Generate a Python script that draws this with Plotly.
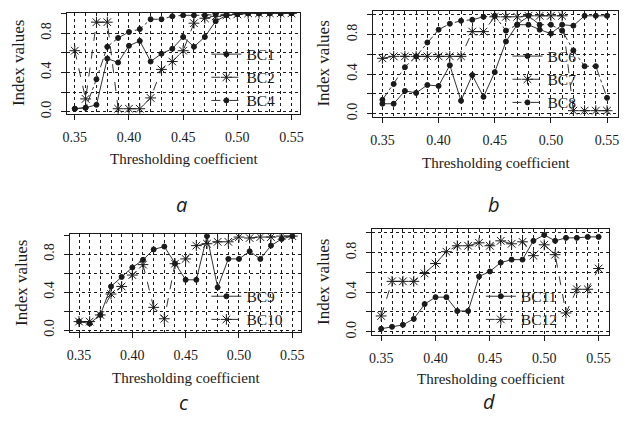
import plotly.graph_objects as go

# ---------------- data ----------------
thresholds = [0.35, 0.36, 0.37, 0.38, 0.39, 0.40, 0.41, 0.42, 0.43, 0.44, 0.45,
              0.46, 0.47, 0.48, 0.49, 0.50, 0.51, 0.52, 0.53, 0.54, 0.55]

bc1 = [0.03, 0.04, 0.07, 0.54, 0.50, 0.67, 0.72, 0.51, 0.59, 0.64, 0.76,
       0.66, 0.76, 0.92, 0.98, 0.99, 1.00, 1.00, 1.00, 1.00, 1.00]
bc2 = [0.62, 0.13, 0.91, 0.91, 0.03, 0.03, 0.03, 0.14, 0.43, 0.51, 0.62,
       0.90, 0.95, 0.97, 0.98, 0.99, 1.00, 1.00, 1.00, 1.00, 1.00]
bc4 = [0.03, 0.04, 0.33, 0.66, 0.75, 0.81, 0.84, 0.94, 0.94, 0.97, 0.98,
       0.98, 0.98, 0.99, 0.99, 1.00, 1.00, 1.00, 1.00, 1.00, 1.00]

bc6 = [0.10, 0.10, 0.23, 0.21, 0.29, 0.28, 0.49, 0.13, 0.39, 0.17, 0.42,
       0.73, 0.90, 0.90, 0.85, 0.81, 0.90, 0.89, 0.99, 0.99, 0.99]
bc7 = [0.56, 0.58, 0.58, 0.58, 0.58, 0.58, 0.58, 0.58, 0.83, 0.83, 0.98,
       0.98, 0.98, 0.99, 0.99, 0.99, 0.99, 0.03, 0.03, 0.03, 0.03]
bc8 = [0.14, 0.30, 0.47, 0.58, 0.72, 0.85, 0.91, 0.94, 0.95, 0.98, 0.99,
       0.84, 0.90, 0.99, 0.90, 0.90, 0.84, 0.64, 0.48, 0.48, 0.16]

bc9 = [0.09, 0.07, 0.16, 0.46, 0.56, 0.66, 0.74, 0.85, 0.88, 0.70, 0.53,
       0.53, 0.99, 0.45, 0.75, 0.75, 0.83, 0.75, 0.89, 0.96, 0.99]
bc10 = [0.09, 0.09, 0.16, 0.38, 0.46, 0.58, 0.69, 0.24, 0.12, 0.70, 0.75,
        0.89, 0.91, 0.93, 0.93, 0.98, 0.97, 0.98, 0.98, 0.99, 0.99]

bc11 = [0.03, 0.05, 0.07, 0.13, 0.28, 0.35, 0.35, 0.21, 0.21, 0.56, 0.61,
        0.70, 0.73, 0.73, 0.92, 0.98, 0.92, 0.95, 0.95, 0.96, 0.96]
bc12 = [0.16, 0.51, 0.51, 0.51, 0.59, 0.69, 0.81, 0.87, 0.87, 0.90, 0.87,
        0.92, 0.89, 0.91, 0.77, 0.88, 0.78, 0.19, 0.43, 0.43, 0.64]

x_tick_vals = [0.35, 0.40, 0.45, 0.50, 0.55]
x_tick_text = ["0.35", "0.40", "0.45", "0.50", "0.55"]
y_tick_vals = [0.0, 0.2, 0.4, 0.6, 0.8, 1.0]
y_tick_text = ["0.0", "", "0.4", "", "0.8", ""]
panel_labels = ["a", "b", "c", "d"]
x_title = "Thresholding coefficient"
y_title = "Index values"

# ---------------- layout helpers ----------------
W, H = 625, 425
SERIF = "Liberation Serif, Times New Roman, serif"
INK = "#1a1a1a"

def px_x(p):
    return p / W

def px_y(p):
    return 1 - p / H

# panel boxes in pixels: left, right, top, bottom ; data ranges ; legend pos ; title/letter y
panels = [
    dict(box=(63, 299, 13, 115), xr=(0.343, 0.558), yr=(-0.02, 1.005), legend=(204, 38), title_y=161, letter_y=207),
    dict(box=(373, 621, 11, 118), xr=(0.3418, 0.5598), yr=(-0.03, 1.04), legend=(509, 40), title_y=165, letter_y=207),
    dict(box=(66, 300, 237, 336), xr=(0.3417, 0.5583), yr=(-0.02, 1.01), legend=(204, 283), title_y=383, letter_y=407),
    dict(box=(372, 612, 232, 339), xr=(0.3418, 0.5597), yr=(-0.033, 1.037), legend=(482, 283), title_y=384, letter_y=406),
]

series = [
    [("BC1", bc1, "solid", "circle", 5), ("BC2", bc2, "dash", "asterisk-open", 9), ("BC4", bc4, "dashdot", "circle", 5)],
    [("BC6", bc6, "solid", "circle", 5), ("BC7", bc7, "dash", "asterisk-open", 9), ("BC8", bc8, "dashdot", "circle", 5)],
    [("BC9", bc9, "solid", "circle", 5), ("BC10", bc10, "dash", "asterisk-open", 9)],
    [("BC11", bc11, "solid", "circle", 5), ("BC12", bc12, "dash", "asterisk-open", 9)],
]

fig = go.Figure()
layout = dict(
    width=W, height=H,
    margin=dict(l=0, r=0, t=0, b=0),
    paper_bgcolor="white", plot_bgcolor="white",
    font=dict(family=SERIF, color=INK, size=14),
    showlegend=True,
)

annotations = []
for i, (pan, ser) in enumerate(zip(panels, series)):
    n = "" if i == 0 else str(i + 1)
    xa, ya = "x" + n, "y" + n
    leg = "legend" + n
    for name, vals, dash, sym, sz in ser:
        fig.add_trace(go.Scatter(
            x=thresholds, y=vals, name=name, xaxis=xa, yaxis=ya, legend=leg,
            mode="lines+markers",
            line=dict(color="#333333", width=1, dash=dash),
            marker=dict(symbol=sym, size=sz, color=INK,
                        line=dict(color=INK, width=1)),
        ))
    l, r, t, b = pan["box"]
    layout["xaxis" + n] = dict(
        domain=[px_x(l), px_x(r)], anchor=ya, range=list(pan["xr"]),
        tickmode="array", tickvals=x_tick_vals, ticktext=x_tick_text,
        ticks="outside", ticklen=5, tickcolor=INK, tickwidth=1,
        ticklabelstandoff=5,
        showline=True, mirror=True, linecolor=INK, linewidth=1.3,
        showgrid=True, gridcolor=INK, griddash="dot", gridwidth=1,
        minor=dict(dtick=0.01, tick0=0.35, showgrid=True, gridcolor=INK,
                   griddash="dot", gridwidth=1, ticks=""),
        zeroline=False, tickfont=dict(size=14, family=SERIF, color=INK),
    )
    layout["yaxis" + n] = dict(
        domain=[px_y(b), px_y(t)], anchor=xa, range=list(pan["yr"]),
        tickmode="array", tickvals=y_tick_vals, ticktext=y_tick_text,
        ticks="outside", ticklen=5, tickcolor=INK, tickwidth=1,
        tickangle=-90, ticklabelstandoff=4,
        showline=True, mirror=True, linecolor=INK, linewidth=1.3,
        showgrid=True, gridcolor=INK, griddash="dot", gridwidth=1,
        zeroline=False, tickfont=dict(size=14, family=SERIF, color=INK),
    )
    lx, ly = pan["legend"]
    layout[leg] = dict(
        x=px_x(lx), y=px_y(ly), xanchor="left", yanchor="top",
        bgcolor="rgba(0,0,0,0)", borderwidth=0,
        font=dict(size=15.5, family=SERIF, color=INK),
        tracegroupgap=0, itemwidth=30,
    )
    cx = (l + r) / 2
    annotations.append(dict(text=x_title, x=px_x(cx), y=px_y(pan["title_y"]), xref="paper", yref="paper",
                            showarrow=False, xanchor="center", yanchor="middle",
                            font=dict(size=15, family=SERIF, color=INK)))
    annotations.append(dict(text=y_title, x=px_x(l - 50), y=px_y((t + b) / 2), xref="paper", yref="paper",
                            showarrow=False, xanchor="center", yanchor="middle", textangle=-90,
                            font=dict(size=17, family=SERIF, color=INK)))
    annotations.append(dict(text="<i>" + panel_labels[i] + "</i>", x=px_x(cx - 2), y=px_y(pan["letter_y"]),
                            xref="paper", yref="paper", showarrow=False,
                            xanchor="center", yanchor="middle",
                            font=dict(size=20, family="Open Sans, DejaVu Sans, sans-serif", color=INK)))

layout["annotations"] = annotations
fig.update_layout(**layout)
fig.write_html("out.html")
